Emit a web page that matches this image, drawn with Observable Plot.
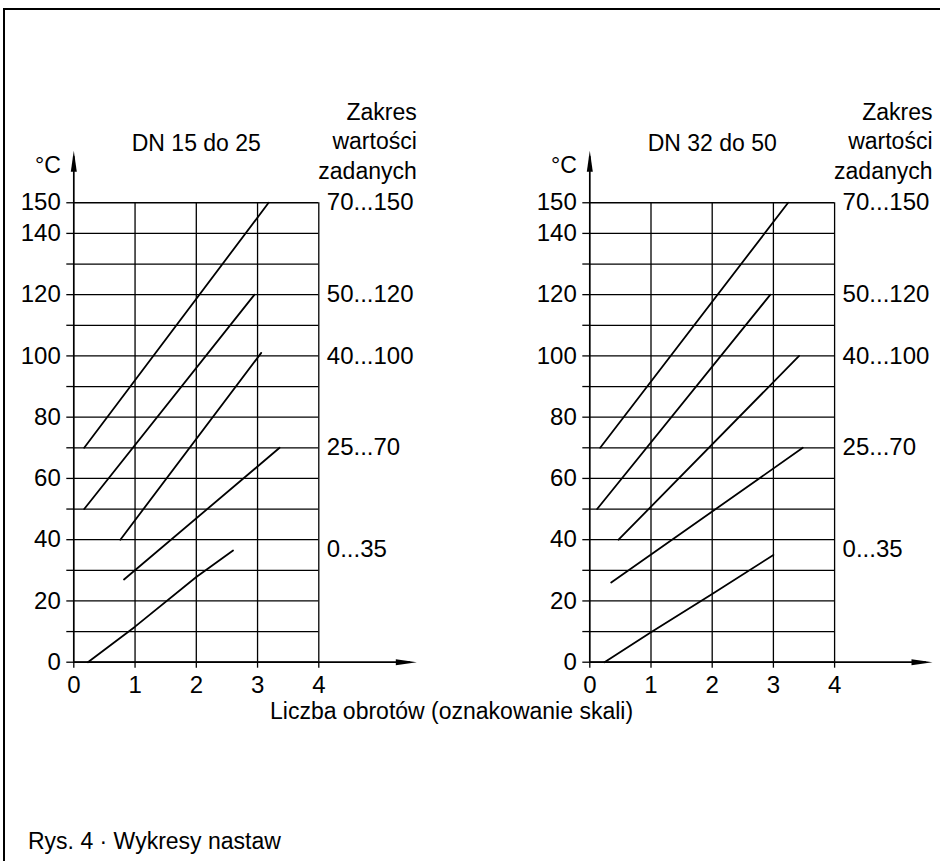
<!DOCTYPE html>
<html>
<head>
<meta charset="utf-8">
<script src="https://cdn.jsdelivr.net/npm/d3@7"></script>
<script src="https://cdn.jsdelivr.net/npm/@observablehq/plot@0.6"></script>
<style>
  html, body { margin: 0; padding: 0; background: #fff; }
  #page { position: relative; width: 940px; height: 861px; overflow: hidden; font-family: 'Liberation Sans', Arial, sans-serif; color: #000; }
  #frame { position: absolute; left: 3px; top: 8px; right: -4px; bottom: -4px; border-top: 2px solid #000; border-left: 2px solid #000; }
  #left, #right { position: absolute; top: 0; }
  #left { left: 0; }
  #right { left: 470px; }
  .htext { position: absolute; font-size: 23px; line-height: 23px; white-space: nowrap; }
</style>
</head>
<body>
<div id="page">
  <div id="frame"></div>
  <div id="left"></div>
  <div id="right"></div>
  <div class="htext" id="xlabel" style="left:270px; top:700px;"></div>
  <div class="htext" id="caption" style="left:28px; top:830px;"></div>
</div>
<script>
// ---- data ----
const panelTitles = ["DN 15 do 25", "DN 32 do 50"];
const rangeLabels = ["70...150", "50...120", "40...100", "25...70", "0...35"];
const rangeLabelY = [150, 120, 100, 70, 37];
const headerText = "Zakres\nwartości\nzadanych";
const unitLabel = "°C";
const xAxisTitle = "Liczba obrotów (oznakowanie skali)";
const captionText = "Rys. 4 · Wykresy nastaw";

const xTicks = [0, 1, 2, 3, 4];
const xGrid = [1, 2, 3, 4];
const yGrid = [0, 10, 20, 30, 40, 50, 60, 70, 80, 90, 100, 110, 120, 130, 140, 150];
const yLabelTicks = [0, 20, 40, 60, 80, 100, 120, 140, 150];

// lines: turns (x) vs temperature (y), one sub-array per setpoint range
const leftX = [[0.17, 3.18], [0.17, 2.95], [0.76, 3.06], [0.82, 3.36], [0.23, 1, 2, 2.6]];
const leftY = [[70, 150], [50, 120], [40, 101], [27, 70], [0, 11.6, 27.8, 36.5]];
const rightX = [[0.17, 3.24], [0.12, 2.95], [0.47, 3.42], [0.35, 3.48], [0.24, 1, 2, 3.0]];
const rightY = [[70, 150], [50, 120], [40, 100], [26, 70], [0, 9.8, 22.3, 35]];

// ---- drawing ----
const arrowSymbol = {
  draw(context) {
    context.moveTo(0, 0);
    context.lineTo(3, 21);
    context.lineTo(-3, 21);
    context.closePath();
  }
};

function panel(title, xs, ys, marginLeft, marginRight) {
  const rows = [];
  rangeLabels.forEach((s, i) => xs[i].forEach((x, j) => rows.push({series: s, x, y: ys[i][j]})));
  return Plot.plot({
    width: 470,
    height: 710,
    marginLeft,
    marginRight,
    marginTop: 150.2,
    marginBottom: 48.3,
    style: {fontFamily: "'Liberation Sans', Arial, sans-serif", fontSize: "23px", color: "#000", background: "transparent", overflow: "visible"},
    x: {domain: [0, 5.6], axis: null},
    y: {domain: [0, 167], axis: null},
    marks: [
      Plot.ruleY(yGrid, {x1: 0, x2: 4, stroke: "#000", strokeWidth: 1.3}),
      Plot.ruleX(xGrid, {y1: 0, y2: 150, stroke: "#000", strokeWidth: 1.3}),
      Plot.ruleX([0], {y1: 0, y2: 165, stroke: "#000", strokeWidth: 1.7}),
      Plot.ruleY([0], {x1: 0, x2: 5.5, stroke: "#000", strokeWidth: 1.7}),
      Plot.dot([167], {x: () => 0, y: d => d, symbol: arrowSymbol, r: 5, fill: "#000", stroke: "none"}),
      Plot.dot([5.6], {x: d => d, y: () => 0, symbol: arrowSymbol, r: 5, rotate: 90, fill: "#000", stroke: "none"}),
      Plot.axisY(yGrid, {anchor: "left", label: null, tickSize: 7, tickPadding: 6, fontSize: 24, strokeWidth: 1.3,
        tickFormat: d => yLabelTicks.includes(d) ? String(d) : ""}),
      Plot.axisX(xTicks, {anchor: "bottom", label: null, tickSize: 6, tickPadding: 8, fontSize: 24, strokeWidth: 1.3}),
      Plot.line(rows, {x: "x", y: "y", z: "series", stroke: "#000", strokeWidth: 1.8}),
      Plot.text(rangeLabels, {x: () => 4, y: (d, i) => rangeLabelY[i], text: d => d, dx: 8, textAnchor: "start", fontSize: 24}),
      Plot.text([title], {x: () => 2, y: () => 172.3, text: d => d, lineAnchor: "top", textAnchor: "middle", fontSize: 23}),
      Plot.text([headerText], {x: () => 5.6, y: () => 184, text: d => d, lineAnchor: "top", textAnchor: "end", lineHeight: 1.29, fontSize: 23}),
      Plot.text([unitLabel], {x: () => 0, y: () => 164.9, text: d => d, lineAnchor: "top", textAnchor: "end", dx: -13, fontSize: 23})
    ]
  });
}

document.getElementById("left").append(panel(panelTitles[0], leftX, leftY, 73.3, 470 - (73.3 + 5.6 * 61.25)));
document.getElementById("right").append(panel(panelTitles[1], rightX, rightY, 119.3, 470 - (119.3 + 5.6 * 61.2)));
document.getElementById("xlabel").textContent = xAxisTitle;
document.getElementById("caption").textContent = captionText;
</script>
</body>
</html>
